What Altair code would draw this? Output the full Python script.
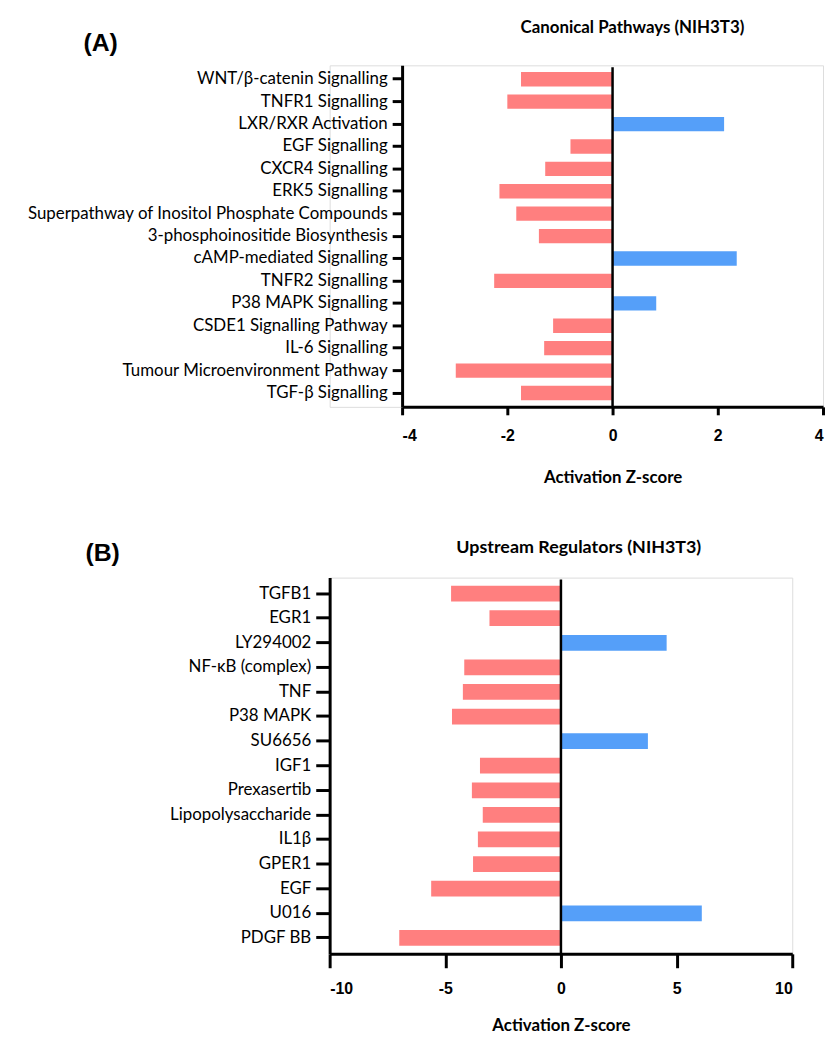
import altair as alt
import pandas as pd

# ---------------- data ----------------
pathways = [
    "WNT/β-catenin Signalling", "TNFR1 Signalling", "LXR/RXR Activation", "EGF Signalling",
    "CXCR4 Signalling", "ERK5 Signalling", "Superpathway of Inositol Phosphate Compounds",
    "3-phosphoinositide Biosynthesis", "cAMP-mediated Signalling", "TNFR2 Signalling",
    "P38 MAPK Signalling", "CSDE1 Signalling Pathway", "IL-6 Signalling",
    "Tumour Microenvironment Pathway", "TGF-β Signalling",
]
pathway_z = [-1.74, -2.0, 2.12, -0.8, -1.28, -2.15, -1.83, -1.4, 2.36, -2.25, 0.83, -1.13, -1.3, -2.98, -1.74]

regulators = [
    "TGFB1", "EGR1", "LY294002", "NF-κB (complex)", "TNF", "P38 MAPK", "SU6656", "IGF1",
    "Prexasertib", "Lipopolysaccharide", "IL1β", "GPER1", "EGF", "U016", "PDGF BB",
]
regulator_z = [-4.75, -3.09, 4.57, -4.18, -4.24, -4.71, 3.76, -3.5, -3.85, -3.38, -3.59, -3.8, -5.61, 6.09, -6.99]

ticks_a = [-4, -2, 0, 2, 4]
ticks_b = [-10, -5, 0, 5, 10]
title_a = "Canonical Pathways (NIH3T3)"
title_b = "Upstream Regulators (NIH3T3)"
letter_a = "(A)"
letter_b = "(B)"
x_title = "Activation Z-score"

RED = "#FF7F7F"
BLUE = "#559FF9"
LFONT = "Lato"
TFONT = "Lato"
NFONT = "Liberation Sans"


def panel(names, values, ticks, inset, w, h, tick_len, xtick_len, label_size, title, title_x,
          title_y, title_size, letter, letter_x, letter_y, anchors, pad_outer, title_pad):
    df = pd.DataFrame({"name": names, "z": values})
    xscale = dict(domain=[ticks[0], ticks[-1]], nice=False)
    if inset:
        xscale["range"] = [inset, inset + w]
    yaxis = dict(title=None, domainColor="black", domainWidth=3, tickColor="black",
                 tickWidth=3, tickSize=tick_len, labelPadding=5, labelFont=LFONT,
                 labelFontSize=label_size, labelColor="black", labelLimit=420, grid=False)
    if inset:
        yaxis["offset"] = -inset
    bars = alt.Chart(df).mark_bar().encode(
        y=alt.Y("name:N", sort=names,
                scale=alt.Scale(paddingInner=0.36, paddingOuter=pad_outer),
                axis=alt.Axis(**yaxis)),
        x=alt.X("z:Q", scale=alt.Scale(**xscale),
                axis=alt.Axis(title=x_title, values=ticks, labelExpr="'' + datum.value",
                              domainColor="black",
                              domainWidth=3, tickColor="black", tickWidth=3, tickSize=xtick_len,
                              labelPadding=13, labelFont=NFONT, labelFontWeight="bold",
                              labelFontSize=16, labelColor="black", titleFont=TFONT,
                              titleFontSize=17, titleFontWeight="bold", titleColor="black",
                              titlePadding=title_pad, titleX=inset + w / 2, grid=False)),
        color=alt.condition("datum.z > 0", alt.value(BLUE), alt.value(RED)),
    )
    zero = alt.Chart(pd.DataFrame({"z": [0]})).mark_rule(color="black", strokeWidth=2.5).encode(
        x="z:Q", y=alt.value(2), y2=alt.value(h)
    )
    ttl = alt.Chart(pd.DataFrame({"t": [title]})).mark_text(
        font=TFONT, fontSize=title_size, fontWeight="bold", color="black",
        align="center", baseline="middle"
    ).encode(text="t:N", x=alt.value(title_x), y=alt.value(title_y))
    let = alt.Chart(pd.DataFrame({"t": [letter]})).mark_text(
        font=NFONT, fontSize=25, fontWeight="bold", color="black",
        align="left", baseline="middle"
    ).encode(text="t:N", x=alt.value(letter_x), y=alt.value(letter_y))
    layers = [bars, zero, ttl, let]
    for ax, ay in anchors:
        layers.append(
            alt.Chart(pd.DataFrame({"t": ["."]})).mark_text(
                fontSize=1, opacity=0, align="left", baseline="top"
            ).encode(text="t:N", x=alt.value(ax), y=alt.value(ay))
        )
    return alt.layer(*layers).properties(width=inset + w, height=h)


# Panel A: view starts at page x 331 (same as B); its plot is inset by 73 px.
pa = panel(pathways, pathway_z, ticks_a, 73, 424, 344, 10, 8, 17, title_a, 305, -38, 17,
           letter_a, -248, -22, [(-323, -53), (0, 449)], 0.3, 26)
pb = panel(regulators, regulator_z, ticks_b, 0, 466, 379, 14, 14, 17, title_b, 251, -30, 18,
           letter_b, -246, -25, [(-323, -55)], 0.33, 21)

chart = alt.vconcat(pa, pb, spacing=9).properties(
    padding=0
).configure_view(stroke="transparent", strokeWidth=0).configure(background="white")

chart.save("out.html", embed_options={"renderer": "svg", "actions": False})
